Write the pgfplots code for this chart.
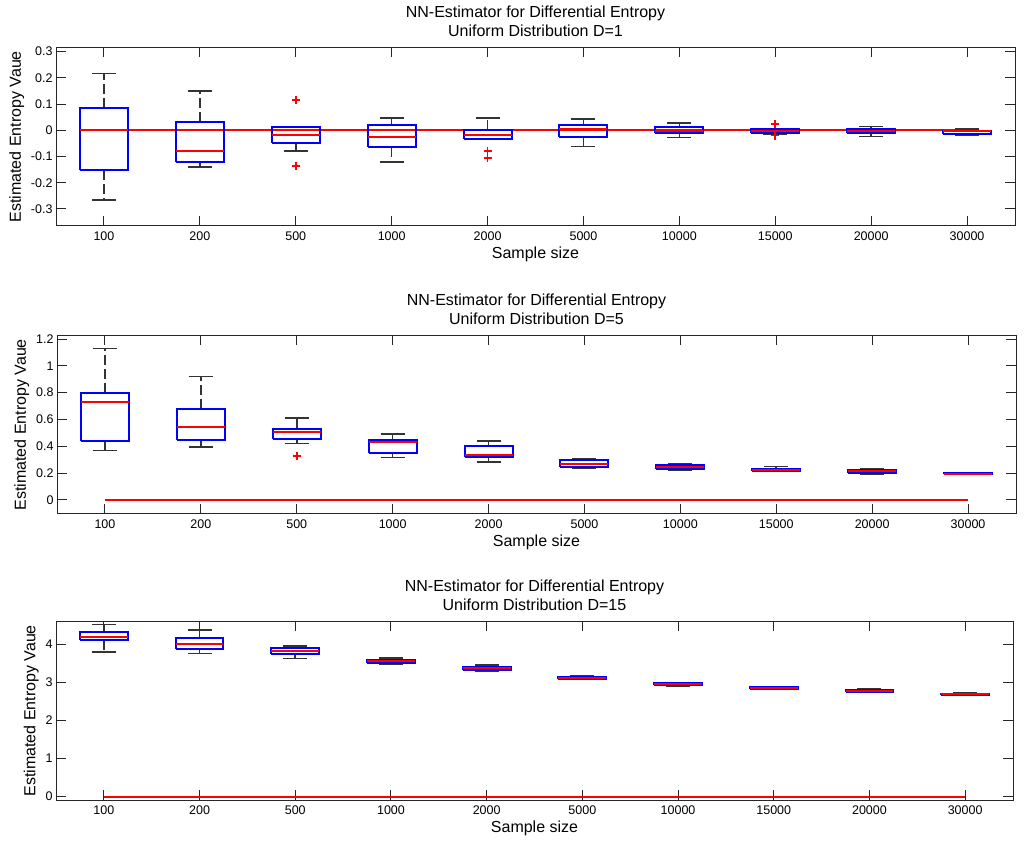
\documentclass[border=0pt]{standalone}
\usepackage{fontspec}
\setmainfont{Liberation Sans}
\usepackage{pgfplots}
\pgfplotsset{compat=1.18}
\definecolor{mblue}{rgb}{0,0,1}
\definecolor{mred}{rgb}{1,0,0}
\definecolor{mwhisk}{rgb}{0.2,0.2,0.2}
\pgfplotsset{
  mataxis/.style={
    width=959bp, height=178.3bp, scale only axis,
    xmin=0.5, xmax=10.5,
    xtick={1,2,3,4,5,6,7,8,9,10},
    xticklabels={100,200,500,1000,2000,5000,10000,15000,20000,30000},
    tick align=inside, major tick length=9.6bp,
    xtick pos=both, ytick pos=both,
    axis line style={draw=black!85, line width=1bp},
    every tick/.style={draw=black!85, line width=1bp},
    ticklabel style={font=\fontsize{12.5bp}{15bp}\selectfont},
    xticklabel style={yshift=-2bp},
    /pgf/number format/assume math mode=true,
    label style={font=\fontsize{16bp}{18bp}\selectfont},
    title style={font=\fontsize{16bp}{18.4bp}\selectfont, align=center, at={(0.5,1)}, anchor=south, inner sep=0pt, yshift=5bp},
    xlabel={Sample size}, ylabel={Estimated Entropy Vaue},
  },
}
% one box: position, lower whisker, lower quartile, median, upper quartile, upper whisker
\newcommand{\mbp}[6]{%
  \pgfmathsetmacro\bxl{#1-0.25}\pgfmathsetmacro\bxr{#1+0.25}%
  \pgfmathsetmacro\cxl{#1-0.125}\pgfmathsetmacro\cxr{#1+0.125}%
  \addplot[draw=mwhisk, line width=1.6bp, dash pattern=on 10bp off 4bp] coordinates {(#1,#5) (#1,#6)};
  \addplot[draw=mwhisk, line width=1.6bp, dash pattern=on 10bp off 4bp] coordinates {(#1,#3) (#1,#2)};
  \addplot[draw=mwhisk, line width=1.6bp] coordinates {(\cxl,#6) (\cxr,#6)};
  \addplot[draw=mwhisk, line width=1.6bp] coordinates {(\cxl,#2) (\cxr,#2)};
  \addplot[draw=mblue, line width=2bp, line join=miter] coordinates {(\bxl,#3) (\bxr,#3) (\bxr,#5) (\bxl,#5) (\bxl,#3)};
  \addplot[draw=mred, line width=2bp] coordinates {(\bxl,#4) (\bxr,#4)};
}
\begin{document}
\begin{tikzpicture}
\useasboundingbox (0,0) rectangle (1024bp,842bp);

% ---------- D = 1 ----------
\begin{axis}[mataxis, at={(56bp,616bp)}, anchor=south west,
  ymin=-0.365, ymax=0.315,
  ytick={-0.3,-0.2,-0.1,0,0.1,0.2,0.3},
  yticklabels={-0.3,-0.2,-0.1,0,0.1,0.2,0.3},
  title={NN-Estimator for Differential Entropy\\Uniform Distribution D=1}]
\addplot[draw=mred, line width=2bp] coordinates {(1,0) (10,0)};
\mbp{1}{-0.267}{-0.153}{0.0}{0.086}{0.217}
\mbp{2}{-0.141}{-0.122}{-0.079}{0.031}{0.150}
\mbp{3}{-0.078}{-0.047}{-0.019}{0.011}{0.014}
\mbp{4}{-0.122}{-0.062}{-0.027}{0.019}{0.047}
\mbp{5}{-0.034}{-0.032}{-0.019}{0.0}{0.047}
\mbp{6}{-0.062}{-0.024}{0.004}{0.019}{0.043}
\mbp{7}{-0.027}{-0.009}{-0.001}{0.011}{0.027}
\mbp{8}{-0.014}{-0.011}{-0.003}{0.004}{0.005}
\mbp{9}{-0.023}{-0.009}{-0.001}{0.005}{0.015}
\mbp{10}{-0.019}{-0.013}{-0.004}{-0.002}{0.005}
\addplot[only marks, mark=+, mark size=4bp, mark options={draw=mred, line width=1.8bp}] coordinates {
  (3,0.117) (3,-0.137) (5,-0.080) (5,-0.106) (8,0.024) (8,-0.020)};
\end{axis}

% ---------- D = 5 ----------
\begin{axis}[mataxis, at={(57bp,328bp)}, anchor=south west,
  ymin=-0.105, ymax=1.225,
  ytick={0,0.2,0.4,0.6,0.8,1,1.2},
  yticklabels={0,0.2,0.4,0.6,0.8,1,1.2},
  title={NN-Estimator for Differential Entropy\\Uniform Distribution D=5}]
\addplot[draw=mred, line width=2bp] coordinates {(1,0) (10,0)};
\mbp{1}{0.370}{0.437}{0.730}{0.797}{1.128}
\mbp{2}{0.393}{0.447}{0.547}{0.678}{0.922}
\mbp{3}{0.422}{0.452}{0.507}{0.532}{0.609}
\mbp{4}{0.316}{0.353}{0.432}{0.447}{0.492}
\mbp{5}{0.283}{0.323}{0.338}{0.400}{0.440}
\mbp{6}{0.239}{0.246}{0.271}{0.301}{0.308}
\mbp{7}{0.224}{0.231}{0.248}{0.263}{0.271}
\mbp{8}{0.216}{0.217}{0.224}{0.234}{0.248}
\mbp{9}{0.194}{0.201}{0.216}{0.226}{0.231}
\mbp{10}{0.191}{0.194}{0.196}{0.201}{0.204}
\addplot[only marks, mark=+, mark size=4bp, mark options={draw=mred, line width=1.8bp}] coordinates {(3,0.330)};
\end{axis}

% ---------- D = 15 ----------
\begin{axis}[mataxis, at={(56bp,42bp)}, anchor=south west, width=957bp,
  ymin=-0.09, ymax=4.6,
  ytick={0,1,2,3,4},
  yticklabels={0,1,2,3,4},
  title={NN-Estimator for Differential Entropy\\Uniform Distribution D=15}]
\addplot[draw=mred, line width=2bp] coordinates {(1,0) (10,0)};
\mbp{1}{3.798}{4.123}{4.193}{4.334}{4.527}
\mbp{2}{3.763}{3.895}{4.026}{4.167}{4.378}
\mbp{3}{3.631}{3.763}{3.833}{3.903}{3.956}
\mbp{4}{3.490}{3.525}{3.569}{3.604}{3.648}
\mbp{5}{3.305}{3.332}{3.376}{3.411}{3.464}
\mbp{6}{3.077}{3.100}{3.130}{3.147}{3.174}
\mbp{7}{2.910}{2.945}{2.963}{2.978}{2.980}
\mbp{8}{2.835}{2.840}{2.857}{2.875}{2.880}
\mbp{9}{2.752}{2.760}{2.787}{2.813}{2.822}
\mbp{10}{2.673}{2.673}{2.690}{2.708}{2.734}
\end{axis}
\end{tikzpicture}
\end{document}
